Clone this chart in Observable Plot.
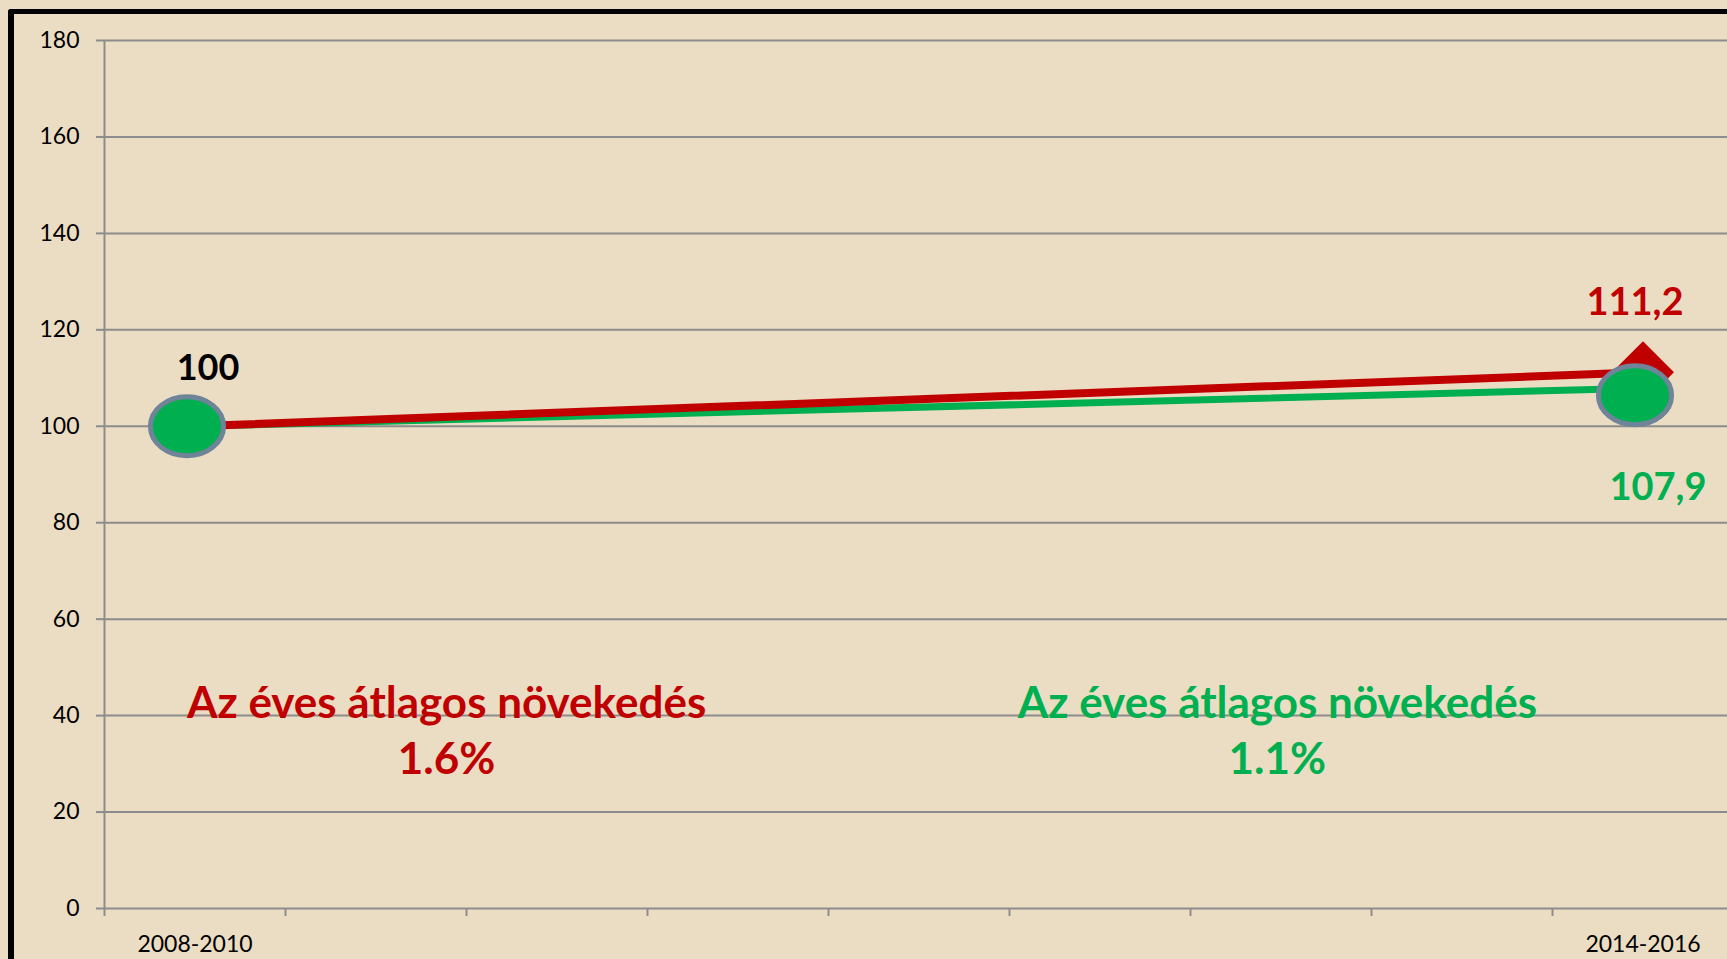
<!DOCTYPE html>
<html><head><meta charset="utf-8">
<script src="https://cdn.jsdelivr.net/npm/d3@7"></script>
<script src="https://cdn.jsdelivr.net/npm/@observablehq/plot@0.6"></script>
<style>
html,body{margin:0;padding:0;background:#EBDDC3;overflow:hidden;}
#wrap{position:relative;width:1727px;height:959px;overflow:hidden;}
#frame{position:absolute;left:8px;top:9px;width:1800px;height:1000px;border-left:6px solid #000;border-top:5px solid #000;border-top-left-radius:3px;}
#chart{position:absolute;left:0;top:0;}
</style></head><body><div id="wrap"><div id="frame"></div><div id="chart"></div></div>
<script>
// ---- data ----
const xLabels = ["2008-2010", "", "", "", "", "", "", "", "2014-2016"];
const periods = ["2008-2010", "2014-2016"];
const redValues = [100, 111.2];
const greenValues = [100, 107.9];
const yTicks = [0, 20, 40, 60, 80, 100, 120, 140, 160, 180];
const redLabel = "111,2";
const greenStartLabel = "100";
const greenEndLabel = "107,9";
const noteTitle = "Az éves átlagos növekedés";
const redRate = "1.6%";
const greenRate = "1.1%";

// ---- derived tables ----
const idx = p => xLabels.indexOf(p) + 0.5;
const red = periods.map((p, k) => ({x: idx(p), v: redValues[k]}));
const green = periods.map((p, k) => ({x: idx(p), v: greenValues[k]}));

const RED = "#C00000", GREEN = "#00B050", GRID = "#8C8C8C";

const ellipse = {draw(ctx, size) {
  const r = Math.sqrt(size / Math.PI), rx = r * 1.24, ry = r, k = 0.5523;
  ctx.moveTo(rx, 0);
  ctx.bezierCurveTo(rx, ry * k, rx * k, ry, 0, ry);
  ctx.bezierCurveTo(-rx * k, ry, -rx, ry * k, -rx, 0);
  ctx.bezierCurveTo(-rx, -ry * k, -rx * k, -ry, 0, -ry);
  ctx.bezierCurveTo(rx * k, -ry, rx, -ry * k, rx, 0);
  ctx.closePath();
}};
const diamond = {draw(ctx, size) {
  const r = Math.sqrt(size / Math.PI);
  ctx.moveTo(0, -r); ctx.lineTo(r, 0); ctx.lineTo(0, r); ctx.lineTo(-r, 0); ctx.closePath();
}};

const bold = {fontFamily: "Lato", fontWeight: "bold"};
const dotStyle = {x: "x", y: "v", dx: -8, symbol: ellipse, r: 29.5, fill: GREEN, stroke: "#6F8399", strokeWidth: 5};

const chart = Plot.plot({
  width: 1727, height: 959,
  marginLeft: 104, marginTop: 40, marginBottom: 51, marginRight: 0,
  style: {background: "transparent", fontFamily: "Lato", fontSize: "23px", color: "#000", overflow: "visible"},
  x: {domain: [0, 9], range: [104, 1733]},
  y: {domain: [0, 180]},
  marks: [
    Plot.gridY(yTicks, {stroke: GRID, strokeOpacity: 1, strokeWidth: 2}),
    Plot.ruleX([0], {y1: 0, y2: 180, stroke: GRID, strokeWidth: 2}),
    Plot.axisY({ticks: yTicks, tickSize: 8, tickPadding: 17, stroke: GRID, strokeWidth: 2, label: null, fontSize: 23}),
    Plot.axisX({ticks: d3.range(0, 9), tickSize: 8, tickFormat: () => "", stroke: GRID, strokeWidth: 2, label: null}),
    Plot.axisX({ticks: d3.range(0, 9).map(i => i + 0.5), tickSize: 0, tickPadding: 27, tickFormat: d => xLabels[Math.floor(d)], label: null, fontSize: 23}),
    Plot.line(green, {x: "x", y: "v", stroke: GREEN, strokeWidth: 7}),
    Plot.line(red, {x: "x", y: "v", stroke: RED, strokeWidth: 8}),
    Plot.dot(red.slice(1), {x: "x", y: "v", symbol: diamond, r: 31, fill: RED, stroke: "none"}),
    Plot.dot(green.slice(0, 1), dotStyle),
    Plot.dot(green.slice(1), {...dotStyle, dy: 7}),
    Plot.text([green[0]], {x: "x", y: "v", text: () => greenStartLabel, dx: 13, dy: -46, lineAnchor: "bottom", fill: "#000", fontSize: 36, ...bold}),
    Plot.text([red[1]], {x: "x", y: "v", text: () => redLabel, dx: -8, dy: -57, lineAnchor: "bottom", fill: RED, fontSize: 38, ...bold}),
    Plot.text([green[1]], {x: "x", y: "v", text: () => greenEndLabel, dx: 15, dy: 112, lineAnchor: "bottom", fill: GREEN, fontSize: 38, ...bold}),
    Plot.text([{x: 1.89, v: 39.6}], {x: "x", y: "v", text: () => noteTitle, lineAnchor: "bottom", fill: RED, fontSize: 44, ...bold}),
    Plot.text([{x: 1.89, v: 27.8}], {x: "x", y: "v", text: () => redRate, lineAnchor: "bottom", fill: RED, fontSize: 44, ...bold}),
    Plot.text([{x: 6.48, v: 39.6}], {x: "x", y: "v", text: () => noteTitle, lineAnchor: "bottom", fill: GREEN, fontSize: 44, ...bold}),
    Plot.text([{x: 6.48, v: 27.8}], {x: "x", y: "v", text: () => greenRate, lineAnchor: "bottom", fill: GREEN, fontSize: 44, ...bold})
  ]
});
document.getElementById("chart").appendChild(chart);
</script>
</body></html>
